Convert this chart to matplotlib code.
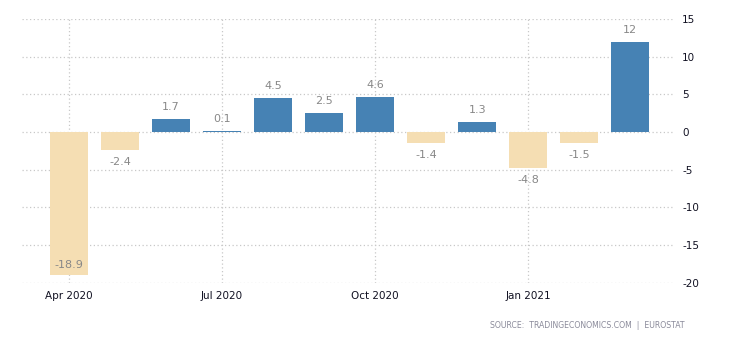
import matplotlib
matplotlib.use("Agg")
import matplotlib.pyplot as plt

months = ["Apr 2020", "May 2020", "Jun 2020", "Jul 2020", "Aug 2020", "Sep 2020",
          "Oct 2020", "Nov 2020", "Dec 2020", "Jan 2021", "Feb 2021", "Mar 2021"]
values = [-18.9, -2.4, 1.7, 0.1, 4.5, 2.5, 4.6, -1.4, 1.3, -4.8, -1.5, 12]
labels = ["-18.9", "-2.4", "1.7", "0.1", "4.5", "2.5", "4.6", "-1.4", "1.3", "-4.8", "-1.5", "12"]
xtick_labels = ["Apr 2020", "Jul 2020", "Oct 2020", "Jan 2021"]
ytick_values = [15, 10, 5, 0, -5, -10, -15, -20]

pos_color = "#4682B4"
neg_color = "#F5DEB3"

fig = plt.figure(figsize=(7.3, 3.4), dpi=100)
ax = fig.add_axes([0.030, 0.168, 0.895, 0.776])

x = list(range(len(months)))
colors = [pos_color if v >= 0 else neg_color for v in values]
ax.bar(x, values, width=0.74, color=colors, zorder=3)

for xi, v, lab in zip(x, values, labels):
    if v >= 0:
        ax.annotate(lab, (xi, v), xytext=(0, 5), textcoords="offset points",
                    ha="center", va="bottom", fontsize=8, color="#888888", zorder=4)
    elif v < -16:
        ax.annotate(lab, (xi, v), xytext=(0, 3), textcoords="offset points",
                    ha="center", va="bottom", fontsize=8, color="#888888", zorder=4)
    else:
        ax.annotate(lab, (xi, v), xytext=(0, -5), textcoords="offset points",
                    ha="center", va="top", fontsize=8, color="#888888", zorder=4)

ax.set_xlim(-0.92, 11.88)
ax.set_ylim(-20, 15)
ax.set_xticks([0, 3, 6, 9])
ax.set_xticklabels(xtick_labels)
ax.set_yticks(ytick_values)
ax.set_yticklabels([str(t) for t in ytick_values])
ax.yaxis.tick_right()
ax.tick_params(axis="both", length=0, labelsize=7.5, colors="#111122")
ax.tick_params(axis="y", pad=5)
ax.tick_params(axis="x", pad=6)
for s in ax.spines.values():
    s.set_visible(False)
ax.grid(True, which="major", axis="both", linestyle=(0, (1, 2)), color="#c8c8c8", linewidth=0.9, zorder=0)

fig.text(0.938, 0.044, "SOURCE:  TRADINGECONOMICS.COM  |  EUROSTAT", ha="right", va="center",
         fontsize=5.6, color="#8a8a9a")

fig.savefig("out.png", dpi=100)
